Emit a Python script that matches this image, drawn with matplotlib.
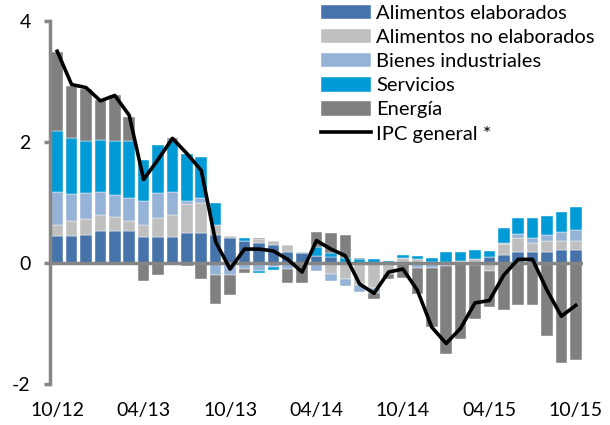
import numpy as np
import matplotlib.pyplot as plt

plt.rcParams["font.family"] = ["Lato", "DejaVu Sans"]

# contribuciones (pp), 10/12 .. 10/15
alim_elab = [0.44, 0.44, 0.47, 0.53, 0.53, 0.53, 0.43, 0.43, 0.43, 0.50, 0.50, 0.46,
             0.41, 0.37, 0.33, 0.30, 0.19, 0.17, 0.12, 0.10, 0.00, 0.00, 0.00, 0.00,
             0.00, 0.00, 0.00, 0.00, 0.00, 0.00, 0.10, 0.14, 0.18, 0.19, 0.19, 0.22, 0.21]
alim_no_elab = [0.18, 0.25, 0.25, 0.27, 0.23, 0.16, 0.19, 0.32, 0.36, 0.47, 0.50, 0.16,
                0.03, 0.00, 0.06, 0.06, 0.10, 0.00, 0.00, -0.18, -0.27, -0.36, -0.42, -0.18,
                0.08, 0.06, 0.02, 0.02, 0.04, 0.07, -0.14, 0.17, 0.24, 0.14, 0.18, 0.15, 0.16]
bienes_ind = [0.56, 0.45, 0.43, 0.38, 0.36, 0.38, 0.41, 0.40, 0.39, 0.05, 0.08, -0.20,
              -0.20, -0.10, -0.13, -0.07, -0.10, 0.02, -0.13, -0.11, -0.11, -0.12, -0.08, 0.00,
              0.00, -0.08, -0.08, -0.05, -0.02, -0.03, 0.00, 0.02, 0.06, 0.09, 0.10, 0.14, 0.17]
servicios = [1.01, 0.92, 0.86, 0.86, 0.89, 0.94, 0.67, 0.80, 0.85, 0.78, 0.68, 0.38,
             0.00, 0.04, -0.03, -0.05, 0.00, 0.00, 0.14, 0.06, 0.08, 0.06, 0.06, 0.04,
             0.06, 0.05, 0.07, 0.16, 0.15, 0.15, 0.10, 0.25, 0.27, 0.32, 0.31, 0.33, 0.39]
energia = [1.30, 0.87, 0.87, 0.65, 0.77, 0.40, -0.30, -0.20, 0.04, -0.05, -0.27, -0.47,
           -0.33, -0.07, 0.02, 0.00, -0.23, -0.33, 0.25, 0.34, 0.39, 0.03, -0.10, -0.08,
           -0.24, -0.44, -0.97, -1.45, -1.23, -0.90, -0.59, -0.78, -0.70, -0.70, -1.20, -1.65, -1.60]
ipc_general = [3.50, 2.95, 2.90, 2.68, 2.77, 2.44, 1.38, 1.71, 2.06, 1.81, 1.53, 0.35,
               -0.10, 0.23, 0.23, 0.20, 0.06, -0.15, 0.37, 0.23, 0.12, -0.35, -0.50, -0.15,
               -0.10, -0.45, -1.06, -1.33, -1.08, -0.66, -0.62, -0.20, 0.06, 0.06, -0.45, -0.88, -0.70]
etiquetas = ["10/12", "04/13", "10/13", "04/14", "10/14", "04/15", "10/15"]

series = [
    ("Alimentos elaborados", alim_elab, "#4674AA"),
    ("Alimentos no elaborados", alim_no_elab, "#BFBFBF"),
    ("Bienes industriales", bienes_ind, "#95B3D7"),
    ("Servicios", servicios, "#009BD6"),
    ("Energía", energia, "#808080"),
]

x = np.arange(len(ipc_general))
gris = "#868686"

fig = plt.figure(figsize=(6.1, 4.25), dpi=100)
ax = fig.add_axes([50 / 610, 41 / 425, 533 / 610, 363 / 425])

pos = np.zeros(len(x))
neg = np.zeros(len(x))
for nombre, vals, color in series:
    v = np.array(vals)
    base = np.where(v >= 0, pos, neg)
    ax.bar(x, v, 0.8, bottom=base, color=color, label=nombre,
           edgecolor="white", linewidth=0.3, zorder=2)
    pos = pos + np.clip(v, 0, None)
    neg = neg + np.clip(v, None, 0)

ax.axhline(0, color=gris, lw=2.5, zorder=3)
ax.plot(x, ipc_general, color="black", lw=2.6, label="IPC general *", zorder=4)

ax.set_xlim(-0.5, len(x) - 0.5)
ax.set_ylim(-2, 4)
ax.set_yticks([-2, 0, 2, 4])
ax.set_yticklabels(["-2", "0", "2", "4"])
ax.set_xticks(x[::6])
ax.set_xticklabels(etiquetas)

for s in ["top", "right", "bottom"]:
    ax.spines[s].set_visible(False)
ax.spines["left"].set_color(gris)
ax.spines["left"].set_linewidth(2.5)
ax.tick_params(axis="y", length=4, width=2.5, color=gris, pad=10, labelsize=14)
ax.tick_params(axis="x", length=0, pad=13, labelsize=14)

handles, labels = ax.get_legend_handles_labels()
handles = handles[1:] + handles[:1]
labels = labels[1:] + labels[:1]
ax.legend(handles, labels, loc="upper left", bbox_to_anchor=(321 / 610, 1 - 5 / 425),
          bbox_transform=fig.transFigure, frameon=False, fontsize=14.5,
          handlelength=2.5, handleheight=0.72, handletextpad=0.25,
          labelspacing=0.34, borderpad=0, borderaxespad=0)

fig.savefig("out.png", dpi=100)
